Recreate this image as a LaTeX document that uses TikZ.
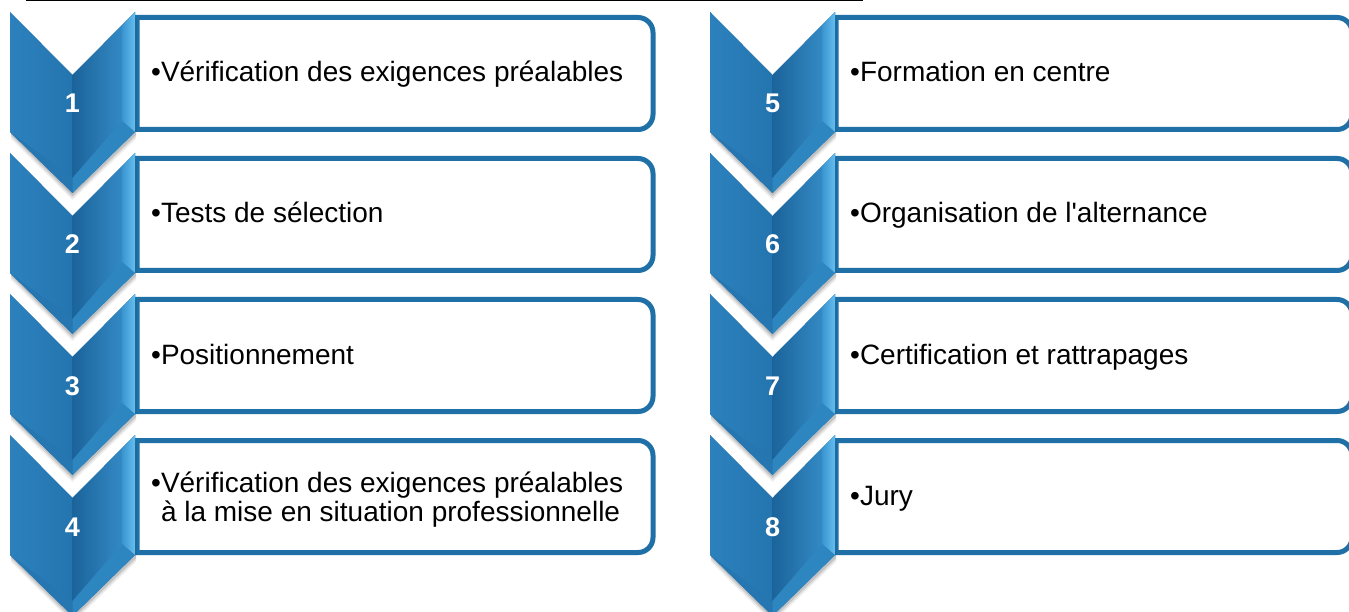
\documentclass[tikz,border=0pt]{standalone}
\usepackage{fontspec}
\setmainfont{Liberation Sans}[Ligatures=TeXOff]
\definecolor{boxblue}{HTML}{1F70A7}
\definecolor{chbase}{HTML}{2173AB}
\definecolor{chdark}{HTML}{1B639B}
\definecolor{chmidr}{HTML}{3A94CF}
\definecolor{chlight}{HTML}{64BEF0}
\definecolor{chleft}{HTML}{2C81BD}
\definecolor{chleftb}{HTML}{2475AF}
\definecolor{chbotl}{HTML}{2677B1}
\definecolor{chbotr}{HTML}{2E86C1}
\tikzset{
  txt/.style={anchor=base west,inner sep=0pt,font=\fontsize{28}{29}\selectfont,text=black},
  numtxt/.style={anchor=base,inner sep=0pt,font=\fontsize{27}{27}\selectfont\bfseries,text=white},
  boxline/.style={line width=5pt,draw=boxblue,fill=white},
}
\newcommand{\procbox}[3]{%
  \draw[boxline] (#1,#3) -- ({#2-15},#3) arc[start angle=-90,end angle=0,radius=15]
    -- (#2,{#3+97}) arc[start angle=0,end angle=90,radius=15] -- (#1,{#3+112}) -- cycle;}
\newcommand{\chevron}[4]{%
  \begin{scope}[shift={(#2,#3)}]
    \foreach \d/\o in {7/0.06,5/0.08,3/0.12}{
      \fill[black,opacity=\o] (1,\d) -- (62.5,{63+\d}) -- (126,\d) -- (126,{120+\d}) -- (62.5,{181+\d}) -- (1,{120+\d}) -- cycle;}
    \fill[chbase] (0,0) -- (62.5,63) -- (125,0) -- (125,120) -- (62.5,181) -- (0,120) -- cycle;
    \shade[left color=chleft,right color=chleftb] (0,0) -- (62.5,63) -- (62.5,166) -- (0,120) -- cycle;
    \shade[left color=chdark,right color=chmidr] (62.5,63) -- (125,0) -- (125,120) -- (62.5,166) -- cycle;
    \shade[left color=chmidr,right color=chlight] (112,14) -- (125,0) -- (125,120) -- (112,109) -- cycle;
    \fill[chbotl] (0,120) -- (62.5,166) -- (62.5,181) -- cycle;
    \fill[chbotr] (125,120) -- (112,109) -- (62.5,166) -- (62.5,181) -- cycle;
    \node[numtxt] (#1) at (62.5,101) {#4};
  \end{scope}}
\begin{document}
\begin{tikzpicture}[x=1pt,y=-1pt]
\useasboundingbox (0,0) rectangle (1349,612);
\clip (0,0) rectangle (1349,612);
\fill[white] (0,0) rectangle (1349,612);
\draw[line width=1.5pt,black] (26,0.75) -- (863,0.75);
% boxes
\foreach \k in {0,1,2,3}{
  \procbox{137}{653}{17.5+141*\k}
  \procbox{836}{1352}{17.5+141*\k}
}
% chevrons
\chevron{n1}{10}{12}{1}
\chevron{n2}{10}{153}{2}
\chevron{n3}{10}{294}{3}
\chevron{n4}{10}{435}{4}
\chevron{n5}{710}{12}{5}
\chevron{n6}{710}{153}{6}
\chevron{n7}{710}{294}{7}
\chevron{n8}{710}{435}{8}
% texts
\node[txt] (t1) at (151,82) {•Vérification des exigences préalables};
\node[txt] (t2) at (151,223) {•Tests de sélection};
\node[txt] (t3) at (151,364) {•Positionnement};
\node[txt] (t4a) at (151,492) {•Vérification des exigences préalables};
\node[txt] (t4b) at (151,521) {\phantom{•}à la mise en situation professionnelle};
\node[txt] (t5) at (850,82) {•Formation en centre};
\node[txt] (t6) at (850,223) {•Organisation de l'alternance};
\node[txt] (t7) at (850,364) {•Certification et rattrapages};
\node[txt] (t8) at (850,505) {•Jury};
\end{tikzpicture}
\end{document}
